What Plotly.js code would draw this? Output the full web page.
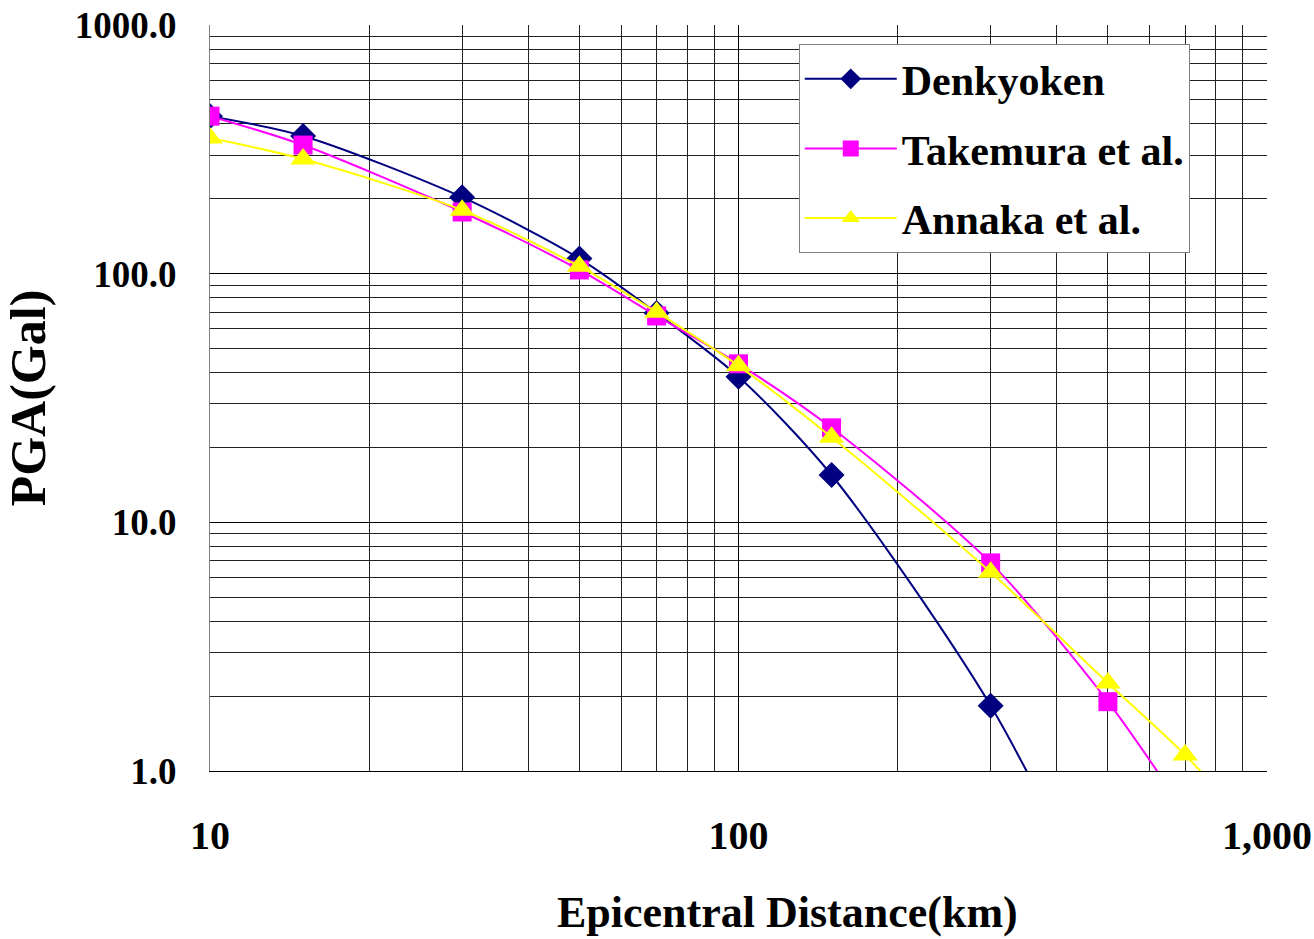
<!DOCTYPE html>
<html>
<head>
<meta charset="utf-8">
<script src="https://cdn.plot.ly/plotly-3.0.1.min.js"></script>
<style>html,body{margin:0;padding:0;background:#fff;}#chart{width:1314px;height:939px;}</style>
</head>
<body>
<div id="chart"></div>
<script>
// Data (epicentral distance in km, PGA in Gal)
const denkyokenX = [10, 15, 30, 50, 70, 100, 150, 300, 500];
const denkyokenY = [430, 358, 203, 115, 69.5, 38.5, 15.5, 1.83, 0.22];
const takemuraX = [10, 15, 30, 50, 70, 100, 150, 300, 500, 700];
const takemuraY = [430, 329, 177, 103.5, 67.6, 43.4, 24, 6.87, 1.9, 0.68];
const annakaX = [10, 15, 30, 50, 70, 100, 150, 300, 500, 700, 1000];
const annakaY = [351, 289, 180, 107, 70, 42.6, 22, 6.3, 2.26, 1.16, 0.5];
const seriesNames = ["Denkyoken", "Takemura et al.", "Annaka et al."];
const xTitle = "Epicentral Distance(km)";
const yTitle = "PGA(Gal)";

const FONT = "Liberation Serif";

const traces = [
  {x: denkyokenX, y: denkyokenY, name: seriesNames[0], mode: "lines+markers", legendgroup: "a",
   line: {color: "#000080", width: 2, shape: "spline", smoothing: 0.8},
   marker: {symbol: "diamond", size: 20, color: "#000080"}},
  {x: takemuraX, y: takemuraY, name: seriesNames[1], mode: "lines+markers", legendgroup: "b",
   line: {color: "#FF00FF", width: 2, shape: "spline", smoothing: 0.8},
   marker: {symbol: "square", size: 19, color: "#FF00FF"}},
  {x: annakaX, y: annakaY, name: seriesNames[2], mode: "lines+markers", legendgroup: "c",
   line: {color: "#FFFF00", width: 2, shape: "spline", smoothing: 0.8},
   marker: {symbol: "triangle-up", size: 22, color: "#FFFF00"}}
];

const layout = {
  width: 1314, height: 939,
  margin: {l: 210, r: 47, t: 25, b: 168},
  paper_bgcolor: "#fff", plot_bgcolor: "#fff",
  font: {family: FONT, color: "#000", weight: "bold"},
  showlegend: true,
  legend: {
    x: 0.557, y: 0.9745, xanchor: "left", yanchor: "top",
    bgcolor: "#fff", bordercolor: "#808080", borderwidth: 1,
    font: {family: FONT, size: 42, color: "#000", weight: "bold"},
    itemwidth: 92, tracegroupgap: 12
  },
  xaxis: {
    type: "log", range: [1, 3], dtick: 1, tickformat: ",",
    showgrid: true, gridcolor: "#000", gridwidth: 1,
    minor: {dtick: "D1", showgrid: true, gridcolor: "#222", gridwidth: 1},
    showline: true, linecolor: "#000", linewidth: 1, mirror: false,
    ticks: "", ticklabelstandoff: 29, zeroline: false,
    tickfont: {family: FONT, size: 40, weight: "bold"}
  },
  yaxis: {
    type: "log", range: [0, 3], dtick: 1, tickformat: ".1f",
    showgrid: true, gridcolor: "#000", gridwidth: 1,
    minor: {dtick: "D1", showgrid: true, gridcolor: "#222", gridwidth: 1},
    showline: true, linecolor: "#808080", linewidth: 1,
    ticks: "", ticklabelstandoff: 25, zeroline: false,
    tickfont: {family: FONT, size: 37, weight: "bold"},
    title: {text: yTitle, standoff: 22, font: {family: FONT, size: 50, weight: "bold"}}
  },
  annotations: [
    {text: xTitle, xref: "paper", yref: "paper", x: 0.546, y: -0.19,
     xanchor: "center", yanchor: "middle", showarrow: false,
     font: {family: FONT, size: 44, weight: "bold", color: "#000"}}
  ]
};

Plotly.newPlot("chart", traces, layout, {displayModeBar: false, staticPlot: true});
</script>
</body>
</html>
